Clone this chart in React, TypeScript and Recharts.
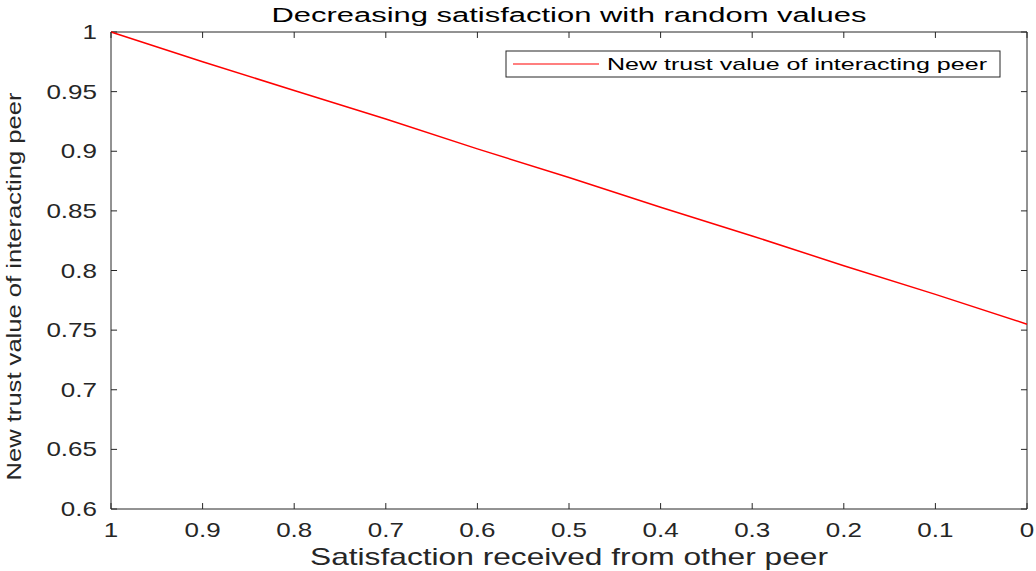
import React from "react"
import { LineChart, Line, XAxis, YAxis, Customized, Label, ReferenceLine } from "recharts"

// values
const satisfaction = [1, 0.9, 0.8, 0.7, 0.6, 0.5, 0.4, 0.3, 0.2, 0.1, 0]
const newTrust = [1, 0.975, 0.951, 0.927, 0.902, 0.878, 0.853, 0.829, 0.804, 0.78, 0.755]
const xTicks = [1, 0.9, 0.8, 0.7, 0.6, 0.5, 0.4, 0.3, 0.2, 0.1, 0]
const yTicks = [0.6, 0.65, 0.7, 0.75, 0.8, 0.85, 0.9, 0.95, 1]

const title = "Decreasing satisfaction with random values"
const xLabel = "Satisfaction received from other peer"
const yLabel = "New trust value of interacting peer"
const seriesName = "New trust value of interacting peer"

const data = satisfaction.map((s, i) => ({ s, v: newTrust[i] }))

const X_MIN = 0
const X_MAX = 1
const Y_MIN = 0.6
const Y_MAX = 1

const FONT = "'Liberation Sans', Arial, sans-serif"
const INK = "#262626"
const STRETCH = 1.3
// inward tick length (~6px) in data units
const TICK_X = 0.0066
const TICK_Y = 0.005

const BottomTick = ({ x, y, payload }: any) => (
  <text
    transform={`translate(${x},${y}) scale(${STRETCH},1)`}
    textAnchor="middle"
    fontFamily={FONT}
    fontSize={20}
    fill={INK}
  >
    {payload.value}
  </text>
)

const LeftTick = ({ x, y, payload }: any) => (
  <text
    transform={`translate(${x},${y + 7}) scale(${STRETCH},1)`}
    textAnchor="end"
    fontFamily={FONT}
    fontSize={20}
    fill={INK}
  >
    {payload.value}
  </text>
)

const XLabel = ({ viewBox }: any) => {
  const cx = viewBox.x + viewBox.width / 2
  return (
    <text
      x={cx}
      y={565}
      textAnchor="middle"
      fontFamily={FONT}
      fontSize={24}
      fill={INK}
      textLength={518}
      lengthAdjust="spacingAndGlyphs"
    >
      {xLabel}
    </text>
  )
}

const YLabel = ({ viewBox }: any) => {
  const cy = viewBox.y + viewBox.height / 2 + 16
  return (
    <text
      transform={`translate(21,${cy}) scale(${STRETCH},1) rotate(-90)`}
      textAnchor="middle"
      fontFamily={FONT}
      fontSize={16}
      fill={INK}
      textLength={388}
      lengthAdjust="spacingAndGlyphs"
    >
      {yLabel}
    </text>
  )
}

// title, legend and the top edge of the axes box
const TitleAndLegend = () => (
  <g>
    <line x1={111} x2={1027} y1={32} y2={32} stroke={INK} />
    <text
      x={569}
      y={22}
      textAnchor="middle"
      fontFamily={FONT}
      fontSize={20}
      fill="#000"
      textLength={595}
      lengthAdjust="spacingAndGlyphs"
    >
      {title}
    </text>
    <rect x={506} y={51} width={494} height={26} fill="#fff" stroke={INK} />
    <line x1={513} x2={599} y1={64} y2={64} stroke="#ff0000" strokeWidth={1.2} />
    <text
      x={607}
      y={70}
      fontFamily={FONT}
      fontSize={17}
      fill="#000"
      textLength={380}
      lengthAdjust="spacingAndGlyphs"
    >
      {seriesName}
    </text>
  </g>
)

export default function App() {
  return (
    <div style={{ position: "absolute", left: 0, top: 0, width: 1036, height: 571, background: "#fff" }}>
      <LineChart
        width={1036}
        height={571}
        data={data}
        margin={{ top: 32, right: 9, bottom: 0, left: 0 }}
      >
        <XAxis
          dataKey="s"
          type="number"
          domain={[X_MIN, X_MAX]}
          ticks={xTicks}
          reversed
          height={62}
          tickSize={0}
          tickMargin={28}
          tickLine={false}
          tick={<BottomTick />}
          axisLine={{ stroke: INK }}
          interval={0}
        >
          <Label content={<XLabel />} />
        </XAxis>
        <YAxis
          type="number"
          domain={[Y_MIN, Y_MAX]}
          ticks={yTicks}
          width={111}
          tickSize={0}
          tickMargin={14}
          tickLine={false}
          tick={<LeftTick />}
          axisLine={{ stroke: INK }}
          interval={0}
        >
          <Label content={<YLabel />} />
        </YAxis>

        {/* right edge of the box */}
        <ReferenceLine
          segment={[{ x: X_MIN, y: Y_MIN }, { x: X_MIN, y: Y_MAX }]}
          stroke={INK}
          ifOverflow="visible"
        />

        {/* inward ticks on all four sides */}
        {xTicks.map((t) => (
          <ReferenceLine
            key={`xb-${t}`}
            segment={[{ x: t, y: Y_MIN }, { x: t, y: Y_MIN + TICK_Y }]}
            stroke={INK}
            ifOverflow="visible"
          />
        ))}
        {xTicks.map((t) => (
          <ReferenceLine
            key={`xt-${t}`}
            segment={[{ x: t, y: Y_MAX }, { x: t, y: Y_MAX - TICK_Y }]}
            stroke={INK}
            ifOverflow="visible"
          />
        ))}
        {yTicks.map((t) => (
          <ReferenceLine
            key={`yl-${t}`}
            segment={[{ x: X_MAX, y: t }, { x: X_MAX - TICK_X, y: t }]}
            stroke={INK}
            ifOverflow="visible"
          />
        ))}
        {yTicks.map((t) => (
          <ReferenceLine
            key={`yr-${t}`}
            segment={[{ x: X_MIN, y: t }, { x: X_MIN + TICK_X, y: t }]}
            stroke={INK}
            ifOverflow="visible"
          />
        ))}

        <Line
          type="linear"
          dataKey="v"
          stroke="#ff0000"
          strokeWidth={1.5}
          dot={false}
          isAnimationActive={false}
        />
        <Customized component={TitleAndLegend} />
      </LineChart>
    </div>
  )
}
